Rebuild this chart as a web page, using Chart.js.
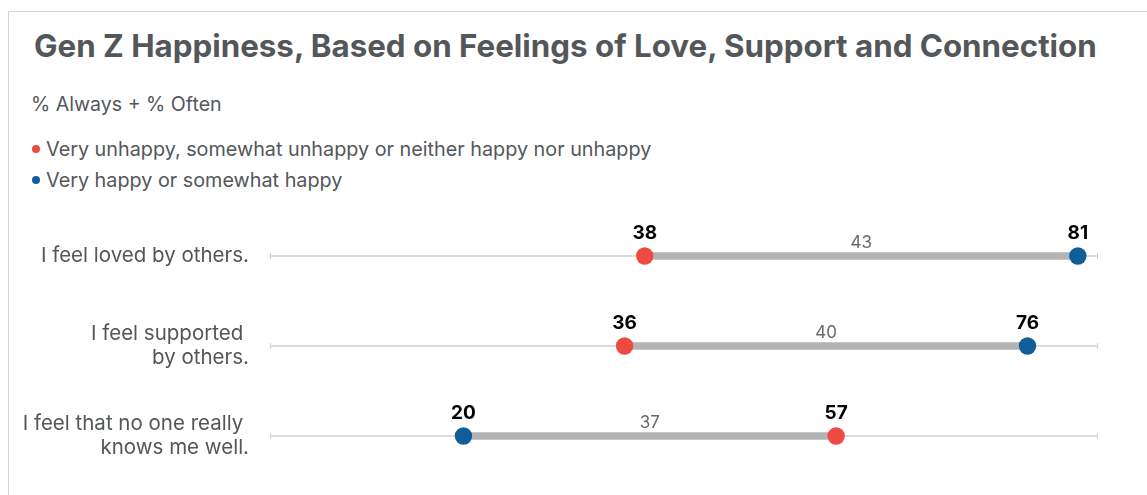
<!DOCTYPE html>
<html>
<head>
<meta charset="utf-8">
<script src="https://cdn.jsdelivr.net/npm/chart.js@4.4.1/dist/chart.umd.min.js"></script>
<style>
  html, body { margin: 0; padding: 0; background: #fff; width: 1147px; height: 495px; overflow: hidden; font-family: Inter, sans-serif; }
  .frame { position: absolute; left: 8px; top: 11px; width: 1300px; height: 700px; border: 1px solid #d6d6d6; box-sizing: border-box; }
  .txt { position: absolute; margin: 0; white-space: nowrap; color: #53575a; }
  #title { left: 34px; top: 31px; font-size: 31.3px; line-height: 31px; font-weight: 700; }
  #subtitle { left: 31px; top: 94px; font-size: 19.6px; line-height: 20px; }
  .legend { left: 32px; font-size: 19.8px; line-height: 20px; }
  .legend span { display: inline-block; width: 8px; height: 8px; border-radius: 50%; margin-right: 6px; vertical-align: 3px; }
  #wrap { position: absolute; left: 0; top: 0; width: 1147px; height: 495px; }
</style>
</head>
<body>
<div class="frame"></div>
<h1 class="txt" id="title">Gen Z Happiness, Based on Feelings of Love, Support and Connection</h1>
<div class="txt" id="subtitle">% Always + % Often</div>
<div class="txt legend" style="top:139px"><span style="background:#ef4a40"></span>Very unhappy, somewhat unhappy or neither happy nor unhappy</div>
<div class="txt legend" style="top:170px"><span style="background:#115d9a"></span>Very happy or somewhat happy</div>
<div id="wrap"><canvas id="myChart" width="1147" height="495"></canvas></div>

<script>
// statements (multi-line labels as arrays)
const statements = [
  ['I feel loved by others.'],
  ['I feel supported ', 'by others.'],
  ['I feel that no one really ', 'knows me well.']
];

// % Always + % Often
const unhappyValues = [38, 36, 57];
const happyValues = [81, 76, 20];

// axis range and the thin baseline under each row
const axisMin = 0;
const axisMax = 83;
const baselineRange = [0.8, 82.9];

const RED = '#ef4a40';
const BLUE = '#115d9a';

// connector between the two dots
const connectors = unhappyValues.map((v, i) => [Math.min(v, happyValues[i]), Math.max(v, happyValues[i])]);
const baselines = statements.map(() => baselineRange.slice());

// labels on top of dots + gap label on the connector, end ticks on the baseline
const labelPlugin = {
  id: 'dumbbellLabels',
  afterDatasetsDraw(chart) {
    const ctx = chart.ctx;
    const x = chart.scales.x;
    const y = chart.scales.y;
    ctx.save();
    statements.forEach((s, i) => {
      const yPix = y.getPixelForValue(i);

      // little end ticks on the baseline
      ctx.strokeStyle = '#cfcfcf';
      ctx.lineWidth = 1;
      [baselineRange[0], baselineRange[1]].forEach(v => {
        const px = Math.round(x.getPixelForValue(v)) + 0.5;
        ctx.beginPath();
        ctx.moveTo(px, yPix - 3);
        ctx.lineTo(px, yPix + 3);
        ctx.stroke();
      });

      ctx.textAlign = 'center';
      ctx.textBaseline = 'alphabetic';
      ctx.fillStyle = '#000';
      ctx.font = 'bold 19px Inter, sans-serif';
      [unhappyValues[i], happyValues[i]].forEach(v => {
        ctx.fillText(v, x.getPixelForValue(v), yPix - 17);
      });

      const gap = Math.abs(happyValues[i] - unhappyValues[i]);
      const mid = (happyValues[i] + unhappyValues[i]) / 2;
      ctx.fillStyle = '#666a6d';
      ctx.font = '17px Inter, sans-serif';
      ctx.fillText(gap, x.getPixelForValue(mid), yPix - 8);
    });
    ctx.restore();
  }
};

const ctx = document.getElementById('myChart').getContext('2d');
const chart = new Chart(ctx, {
  data: {
    labels: statements,
    datasets: [
      {
        type: 'scatter',
        label: 'Very unhappy, somewhat unhappy or neither happy nor unhappy',
        data: unhappyValues.map((v, i) => ({ x: v, y: i })),
        backgroundColor: RED,
        borderWidth: 0,
        pointRadius: 8.7,
        pointHoverRadius: 8.7,
        order: 0
      },
      {
        type: 'scatter',
        label: 'Very happy or somewhat happy',
        data: happyValues.map((v, i) => ({ x: v, y: i })),
        backgroundColor: BLUE,
        borderWidth: 0,
        pointRadius: 8.7,
        pointHoverRadius: 8.7,
        order: 0
      },
      {
        type: 'bar',
        label: 'gap',
        indexAxis: 'y',
        data: connectors,
        backgroundColor: '#b3b3b3',
        barThickness: 7,
        grouped: false,
        order: 1
      },
      {
        type: 'bar',
        label: 'baseline',
        indexAxis: 'y',
        data: baselines,
        backgroundColor: '#cfcfcf',
        barThickness: 1,
        grouped: false,
        order: 2
      }
    ]
  },
  options: {
    responsive: false,
    animation: false,
    devicePixelRatio: 1,
    layout: { padding: { left: 0, right: 49, top: 211, bottom: 14 } },
    plugins: {
      legend: { display: false },
      tooltip: { enabled: false }
    },
    scales: {
      x: {
        type: 'linear',
        min: axisMin,
        max: axisMax,
        display: false
      },
      y: {
        type: 'category',
        offset: true,
        grid: { display: false, drawTicks: false },
        border: { display: false },
        ticks: {
          color: '#53575a',
          font: { family: 'Inter, sans-serif', size: 20.5 },
          padding: 13
        },
        afterFit(scale) {
          scale.width = 262;
          scale.paddingTop = 0;
          scale.paddingBottom = 0;
        }
      }
    }
  },
  plugins: [labelPlugin]
});
</script>
</body>
</html>
